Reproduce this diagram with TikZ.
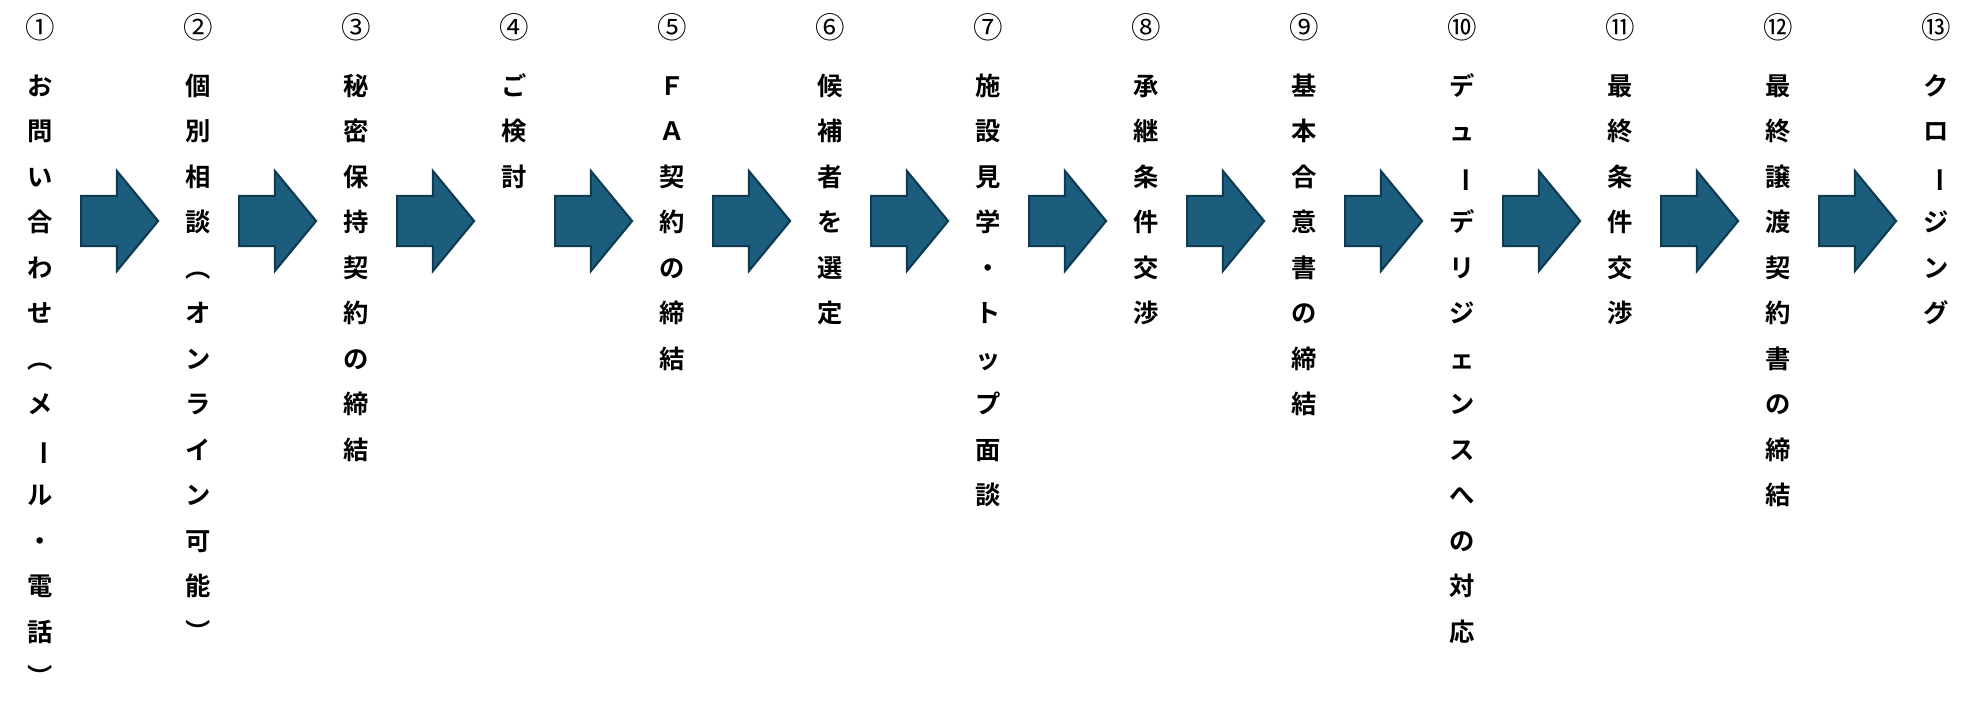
\documentclass[tikz,border=0pt]{standalone}
\usepackage{fontspec}
\usepackage{graphicx}
\newfontfamily\jpbold{Noto Sans CJK JP}[UprightFont=* Bold]
\newfontfamily\jpnum{Noto Sans CJK JP}
\usepackage{xcolor}
\usetikzlibrary{shapes.arrows}
\definecolor{arrowfill}{HTML}{1C5D7E}
\definecolor{arrowline}{HTML}{103A4F}
% long vowel mark set upright, as in vertical writing
\newcommand{\vbar}{\rotatebox[origin=c]{-90}{ー}}

\begin{document}
\begin{tikzpicture}[
    x=0.01cm, y=-0.01cm,
    stepnum/.style={font=\jpnum\fontsize{8.4}{8.4}\selectfont, inner sep=0pt},
    stepchar/.style={font=\jpbold\fontsize{7.2}{7.2}\selectfont, inner sep=0pt,
        text height=0.88em, text depth=0.12em},
    flow/.style={single arrow, draw=arrowline, fill=arrowfill, line width=0.6pt,
        minimum height=0.77cm, minimum width=0.98cm, inner xsep=0pt, inner ysep=0.24cm,
        single arrow head extend=0.25cm, single arrow tip angle=101, anchor=tail}
]
    \useasboundingbox (0,0) rectangle (1980,704);

    % Step numbers
    \foreach \num [count=\k] in {①,②,③,④,⑤,⑥,⑦,⑧,⑨,⑩,⑪,⑫,⑬}
        \node[stepnum] (num\k) at ({40+158*(\k-1)}, 27) {\num};

    % Step texts, one character per line
    \foreach \txt [count=\k] in {
        {お,問,い,合,わ,せ,︵,メ,\vbar,ル,・,電,話,︶},
        {個,別,相,談,︵,オ,ン,ラ,イ,ン,可,能,︶},
        {秘,密,保,持,契,約,の,締,結},
        {ご,検,討},
        {Ｆ,Ａ,契,約,の,締,結},
        {候,補,者,を,選,定},
        {施,設,見,学,・,ト,ッ,プ,面,談},
        {承,継,条,件,交,渉},
        {基,本,合,意,書,の,締,結},
        {デ,ュ,\vbar,デ,リ,ジ,ェ,ン,ス,へ,の,対,応},
        {最,終,条,件,交,渉},
        {最,終,譲,渡,契,約,書,の,締,結},
        {ク,ロ,\vbar,ジ,ン,グ}}
    {
        \foreach \c [count=\i] in \txt
            \node[stepchar] (step\k-\i) at ({40+158*(\k-1)}, {82+45.5*(\i-1)}) {\c};
    }

    % Arrows between the steps
    \foreach \k in {1,...,12}
        \node[flow] (arr\k) at ({80+158*(\k-1)}, 221) {};
\end{tikzpicture}
\end{document}
